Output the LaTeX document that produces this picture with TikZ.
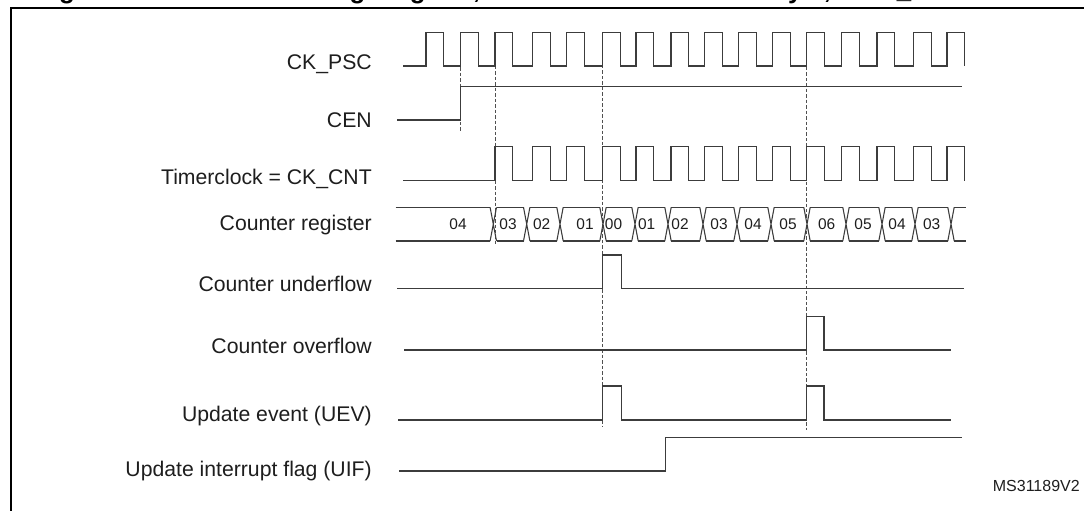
\documentclass[tikz,border=0pt]{standalone}
\usepackage{fontspec}
\setmainfont{Liberation Sans}
\definecolor{sigc}{HTML}{3C3C3C}
\definecolor{dashc}{HTML}{505050}
\definecolor{txtc}{HTML}{1E1E1E}
\begin{document}
\begin{tikzpicture}[x=0.75pt,y=-0.75pt,
  sig/.style={draw=sigc, line width=0.8pt, line join=miter},
  guide/.style={draw=dashc, line width=0.75pt, dash pattern=on 2.6pt off 1.5pt},
  lbl/.style={anchor=east, inner sep=0pt, font=\fontsize{15.9pt}{19pt}\selectfont, text=txtc},
  val/.style={inner sep=0pt, font=\fontsize{11.6pt}{14pt}\selectfont, text=txtc},
  ttl/.style={anchor=base west, inner sep=0pt, font=\bfseries\fontsize{19.35pt}{23pt}\selectfont}]
\useasboundingbox (0,0) rectangle (1084,510);
\fill[white] (0,0) rectangle (1084,510);
% title (cropped at the top edge)
\node[ttl] (title1) at (36,-1.6) {Figure 174. Counter timing diagram,};
\node[ttl] (title2) at (501,-1.6) {internal clock divided by 1, TIMx\_ARR = 0x6};
% frame
\draw[line width=1.5pt] (11,512) -- (11,7.7) -- (1086,7.7);
% labels
\node[lbl] (lpsc) at (372,64) {CK\_PSC};
\node[lbl] (lcen) at (372,120) {CEN};
\node[lbl] (lcnt) at (372,179) {Timerclock = CK\_CNT};
\node[lbl] (lreg) at (372,225) {Counter register};
\node[lbl] (lund) at (372,284) {Counter underflow};
\node[lbl] (lovf) at (372,346) {Counter overflow};
\node[lbl] (luev) at (372,416) {Update event (UEV)};
\node[lbl] (luif) at (372,471.5) {Update interrupt flag (UIF)};
\node[anchor=east, inner sep=0pt, font=\fontsize{12pt}{14pt}\selectfont, text=txtc] (code) at (1080,486) {MS31189V2};
% guide lines
\draw[guide] (460.7,61.7) -- (460.7,130.7);
\draw[guide] (495,66) -- (495,244);
\draw[guide] (602.7,65) -- (602.7,427);
\draw[guide] (806.7,45) -- (806.7,430);
% CK_PSC
\draw[sig] (403,66) foreach \r in {426,460.7,495,532.7,566.7,602.7,636,671,704.5,738.5,772.7,806.7,841.7,877,913.3,947}
  { -- (\r,66) -- (\r,32.5) -- (\r+17.8,32.5) -- (\r+17.8,66) };
% CEN
\draw[sig] (397.3,120) -- (460.7,120) -- (460.7,86.7) -- (962,86.7);
% CK_CNT
\draw[sig] (403,180.5) foreach \r in {495,532.7,566.7,602.7,636,671,704.5,738.5,772.7,806.7,841.7,877,913.3,947}
  { -- (\r,180.5) -- (\r,146.7) -- (\r+17.8,146.7) -- (\r+17.8,180.5) };
% Counter register
\foreach \a/\b in {392.5/493.3, 493.3/526.7, 526.7/560, 560/603, 603/635, 635/668, 668/703, 703/737, 737/771, 771/807, 807/846, 846/882, 882/915, 915/951, 951/969.2}
  { \draw[sig] (\a+3.2,207.3) -- (\b-3.2,207.3) (\a+3.2,241) -- (\b-3.2,241); }
\foreach \t in {493.3, 526.7, 560, 603, 635, 668, 703, 737, 771, 807, 846, 882, 915, 951}
  { \draw[sig] (\t-3.2,207.3) -- (\t+3.2,241) (\t-3.2,241) -- (\t+3.2,207.3); }
\foreach \x/\v [count=\i] in {458/04, 508/03, 541.7/02, 585/01, 613.5/00, 646.7/01, 680/02, 719/03, 753/04, 788/05, 826.7/06, 863/05, 897/04, 931.7/03}
  { \node[val] (v\i) at (\x,224.5) {\v}; }
% Counter underflow
\draw[sig] (397.3,288.3) -- (602.7,288.3) -- (602.7,255) -- (621.3,255) -- (621.3,288.3) -- (964.3,288.3);
% Counter overflow
\draw[sig] (404,350) -- (806.7,350) -- (806.7,316.7) -- (824,316.7) -- (824,350) -- (950.7,350);
% Update event
\draw[sig] (398.3,420) -- (602.7,420) -- (602.7,386) -- (621.3,386) -- (621.3,420) -- (806.7,420) -- (806.7,386) -- (824,386) -- (824,420) -- (950.7,420);
% UIF
\draw[sig] (399.3,471) -- (665.3,471) -- (665.3,437.3) -- (961.7,437.3);
\end{tikzpicture}
\end{document}
